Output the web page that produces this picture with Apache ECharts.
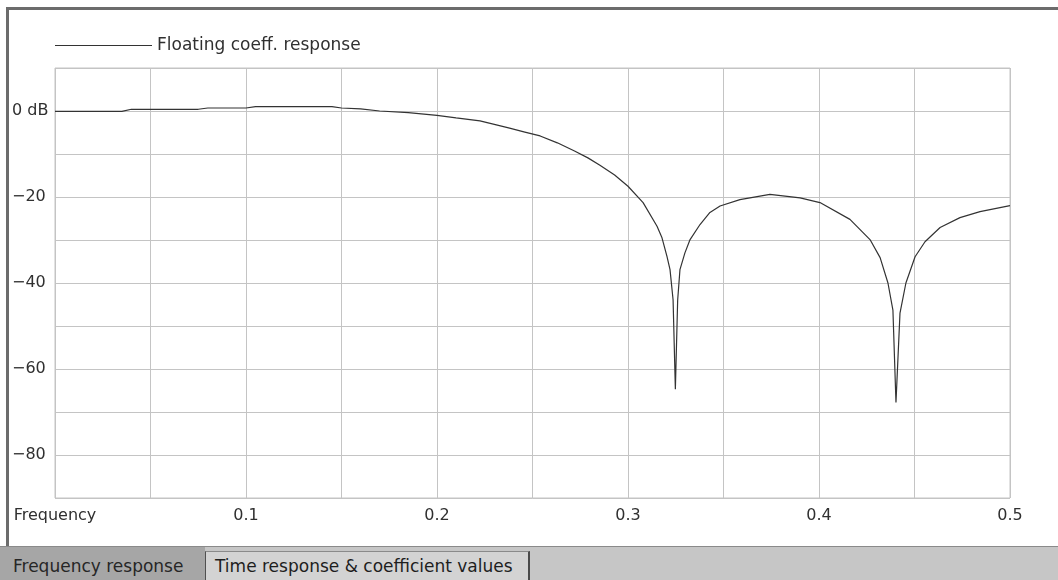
<!DOCTYPE html>
<html>
<head>
<meta charset="utf-8">
<script src="https://cdn.jsdelivr.net/npm/echarts@6/dist/echarts.min.js"></script>
<style>
  html, body { margin: 0; padding: 0; width: 1058px; height: 580px; overflow: hidden; background: #fff; }
  body { position: relative; font-family: "DejaVu Sans", sans-serif; }
  #panel {
    position: absolute; left: 6px; top: 7px; width: 1049px; height: 536px;
    border-top: 3px solid #6c6c6c; border-left: 3px solid #6c6c6c; background: #fff;
  }
  #tabbar {
    position: absolute; left: 0; top: 546px; width: 1058px; height: 34px;
    background: #c6c6c6; border-top: 1px solid #8a8a8a;
  }
  #tab1 {
    position: absolute; left: 0; top: 0; width: 205px; height: 34px;
    background: #a6a6a6; color: #262626; font-size: 17px; line-height: 38px;
    padding-left: 13px; box-sizing: border-box;
  }
  #tab2 {
    position: absolute; left: 205px; top: 4px; width: 325px; height: 30px;
    background: #d3d3d3; color: #1e1e1e; font-size: 17px; line-height: 28px;
    padding-left: 9px; box-sizing: border-box;
    border-left: 1px solid #505050; border-top: 1px solid #8a8a8a; border-right: 2px solid #4a4a4a;
  }
  #Chart1 { position: absolute; left: 0; top: 0; width: 1058px; height: 580px; }
</style>
</head>
<body>
<div id="panel"></div>
<div id="tabbar">
  <div id="tab1">Frequency response</div>
  <div id="tab2">Time response &amp; coefficient values</div>
</div>
<div id="Chart1"></div>
<script>
// normalised frequency (x) and magnitude in dB (y)
const freq = [
  0, 0.035, 0.04, 0.075, 0.08, 0.1, 0.105, 0.145, 0.15, 0.16,
  0.17, 0.185, 0.2, 0.21, 0.2225, 0.23, 0.238, 0.246, 0.254, 0.263,
  0.272, 0.279, 0.2853, 0.293, 0.3, 0.3079, 0.3152, 0.3178, 0.3204, 0.322,
  0.3236, 0.3248, 0.326, 0.3272, 0.3298, 0.3325, 0.3377, 0.3429, 0.3482, 0.3586,
  0.3743, 0.3901, 0.4005, 0.4162, 0.4267, 0.432, 0.4361, 0.4387, 0.4403, 0.4424,
  0.4455, 0.4503, 0.4555, 0.4634, 0.4738, 0.4843, 0.5
];
const magDb = [
  -0.1, -0.1, 0.4, 0.4, 0.7, 0.7, 1.0, 1.0, 0.7, 0.5,
  0, -0.4, -1.0, -1.6, -2.3, -3.1, -4.0, -4.9, -5.8, -7.4,
  -9.3, -10.9, -12.6, -14.9, -17.5, -21.3, -26.8, -29.5, -33.8, -36.9,
  -43.9, -64.7, -44, -36.9, -33, -29.9, -26.4, -23.6, -22.1, -20.6,
  -19.4, -20.2, -21.3, -25.2, -29.9, -34.1, -40, -46.3, -67.8, -47,
  -40, -33.9, -30.4, -27.1, -24.8, -23.4, -22
];
const xTicks = [0.1, 0.2, 0.3, 0.4, 0.5];
const yTicks = [0, -20, -40, -60, -80];
const seriesName = 'Floating coeff. response';

var dom = document.getElementById('Chart1');
var myChart = echarts.init(dom, null, { renderer: 'canvas' });
const txt = { color: '#303030', fontFamily: 'DejaVu Sans', fontSize: 16 };

var option = {
  animation: false,
  backgroundColor: 'transparent',
  grid: {
    left: 55, top: 68, right: 48, bottom: 82,
    show: true, borderColor: '#c4c4c4', borderWidth: 1
  },
  legend: {
    left: 55, top: 37, padding: 0,
    itemWidth: 97, itemHeight: 1, itemGap: 0,
    data: [{ name: seriesName, icon: 'rect' }],
    textStyle: { color: '#303030', fontFamily: 'DejaVu Sans', fontSize: 17 }
  },
  xAxis: {
    type: 'value', min: 0, max: 0.5, interval: 0.05,
    axisLine: { show: false }, axisTick: { show: false },
    splitLine: { lineStyle: { color: '#c4c4c4', width: 1 } },
    axisLabel: Object.assign({}, txt, {
      margin: 10,
      showMaxLabel: true,
      formatter: function (v) {
        const r = Math.round(v * 100);
        if (r === 0) return 'Frequency';
        const t = xTicks.find(function (x) { return Math.round(x * 100) === r; });
        return t !== undefined ? t.toFixed(1) : '';
      }
    })
  },
  yAxis: {
    type: 'value', min: -90, max: 10, interval: 10,
    axisLine: { show: false }, axisTick: { show: false },
    splitLine: { lineStyle: { color: '#c4c4c4', width: 1 } },
    axisLabel: Object.assign({}, txt, {
      align: 'left', margin: 43,
      formatter: function (v) {
        const r = Math.round(v);
        if (yTicks.indexOf(r) < 0) return '';
        return r === 0 ? '0 dB' : '\u2212' + Math.abs(r);
      }
    })
  },
  series: [{
    name: seriesName,
    type: 'line',
    showSymbol: false,
    symbol: 'none',
    data: freq.map(function (f, i) { return [f, magDb[i]]; }),
    lineStyle: { color: '#333333', width: 1.2 },
    itemStyle: { color: '#333333' }
  }]
};
myChart.setOption(option);
</script>
</body>
</html>
